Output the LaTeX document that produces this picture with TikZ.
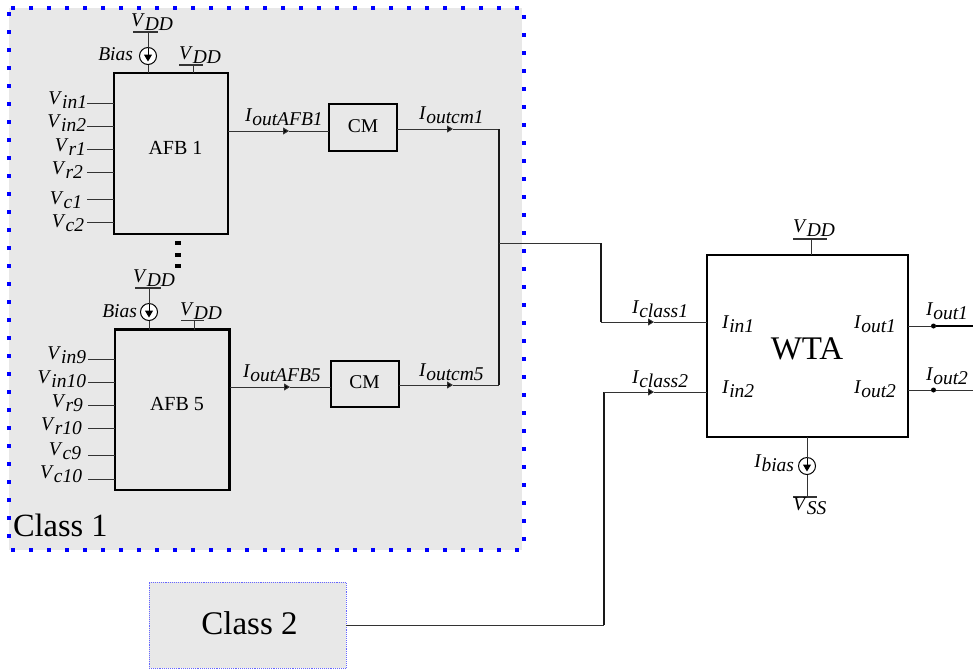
\documentclass[tikz,border=0pt]{standalone}
\usepackage{fontspec}
\setmainfont{Liberation Serif}
\usetikzlibrary{arrows.meta}
\newcommand{\lbl}[2]{\fontsize{19.5}{19.5}\selectfont\textit{#1}\raisebox{-4pt}{\textit{#2}}}
\newcommand{\fs}[1]{\fontsize{#1}{#1}\selectfont}
\tikzset{
  blockbox/.style={draw=black,line width=2.4pt,anchor=north west,inner sep=0pt,outer sep=0pt},
  cmbox/.style={draw=black,line width=2pt,anchor=north west,inner sep=0pt,outer sep=0pt},
  txt/.style={inner sep=0pt,outer sep=0pt,anchor=base west,text=black},
  txtr/.style={inner sep=0pt,outer sep=0pt,anchor=base east,text=black},
  txtc/.style={inner sep=0pt,outer sep=0pt,anchor=base,text=black},
  wire/.style={line width=1pt,draw=black!80},
  rail/.style={line width=1.5pt,draw=black!90},
  tipwire/.style={line width=1pt,draw=black!80,-{Triangle[length=6pt,width=7pt,fill=black]}},
  srcc/.style={circle,draw=black,line width=1pt,fill=white,minimum size=17pt,inner sep=0pt,outer sep=0pt},
  srcarrow/.style={line width=1pt,-{Triangle[length=7pt,width=8pt,fill=black]},shorten >=3pt},
  bar/.style={line width=1.3pt,draw=black!80},
  bluedots/.style={draw=blue,line width=4pt,dash pattern=on 4pt off 14pt},
  juncdot/.style={circle,fill=black,inner sep=0pt,minimum size=5pt},
  vdot/.style={fill=black,inner sep=0pt,minimum width=6pt,minimum height=4pt}
}
\begin{document}
\begin{tikzpicture}[x=1pt,y=-1pt]
\useasboundingbox (0,0) rectangle (973,670);
% Class 1 background
\fill[black!9] (9,8) rectangle (522,550);
\draw[bluedots] (11,8) -- (524,8);
\draw[bluedots] (9,12) -- (9,550);
\draw[bluedots] (11,550) -- (522,550);
\draw[bluedots] (524,15) -- (524,548);
\node[txt] (class1) at (13,536) {\fs{32.4}Class 1};
% Class 2
\node[draw=blue!60,line width=0.9pt,densely dotted,fill=black!9,anchor=north west,minimum width=197pt,minimum height=86pt,inner sep=0pt,outer sep=0pt] (c2) at (149,582) {};
\node[txtc] (class2) at (249.5,634) {\fs{33}Class 2};
% blocks
\node[blockbox,minimum width=114pt,minimum height=161pt] (afb1) at (114,73) {};
\node[blockbox,minimum width=114.5pt,minimum height=160.5pt] (afb5) at (115,329.5) {};
\node[txtc] (afb1t) at (175.5,154) {\fs{20}AFB 1};
\node[txtc] (afb5t) at (177,410) {\fs{20}AFB 5};
\node[cmbox,minimum width=68pt,minimum height=47pt] (cm1) at (329,104) {};
\node[cmbox,minimum width=67.5pt,minimum height=46pt] (cm5) at (331,361) {};
\node[txtc] (cm1t) at (363,132) {\fs{19.5}CM};
\node[txtc] (cm5t) at (364.5,388) {\fs{19.5}CM};
\node[blockbox,minimum width=201pt,minimum height=182pt] (wta) at (707,255) {};
\node[txtc] (wtat) at (807,359) {\fs{33}WTA};
% ellipsis
\node[vdot] (d1) at (178,243) {};
\node[vdot] (d2) at (178,255) {};
\node[vdot] (d3) at (178,266) {};
% AFB1 inputs
\foreach \n/\y in {a/103,b/126,c/149,d/172,e/199,f/222}{
  \coordinate (p\n) at (87,\y);
  \draw[wire] (p\n) -- (p\n -| afb1.west);
}
\node[txtr] (l1) at (87,104) {\lbl{V}{in1}};
\node[txtr] (l2) at (86,127) {\lbl{V}{in2}};
\node[txtr] (l3) at (86,151) {\lbl{V}{r1}};
\node[txtr] (l4) at (83,174) {\lbl{V}{r2}};
\node[txtr] (l5) at (82,204) {\lbl{V}{c1}};
\node[txtr] (l6) at (84,227) {\lbl{V}{c2}};
% AFB5 inputs
\foreach \n/\y in {a/359,b/382,c/405,d/428,e/455,f/479}{
  \coordinate (q\n) at (88,\y);
  \draw[wire] (q\n) -- (q\n -| afb5.west);
}
\node[txtr] (m1) at (86,359) {\lbl{V}{in9}};
\node[txtr] (m2) at (86,383) {\lbl{V}{in10}};
\node[txtr] (m3) at (83,407) {\lbl{V}{r9}};
\node[txtr] (m4) at (82,430) {\lbl{V}{r10}};
\node[txtr] (m5) at (81,455) {\lbl{V}{c9}};
\node[txtr] (m6) at (82,478) {\lbl{V}{c10}};
% AFB1 supplies
\coordinate (b1a) at (133,32); \coordinate (b1b) at (158,32); \coordinate (b1m) at (148,32);
\node[srcc] (s1) at (148,56) {};
\draw[bar] (b1a) -- (b1b);
\draw[wire] (b1m) -- (s1.north);
\draw[wire] (s1.south) -- (s1.south |- afb1.north);
\draw[srcarrow] (s1.north) -- (s1.south);
\node[txtr] (bias1) at (133,60) {\lbl{}{}\textit{Bias}};
\node[txt] (vdd1) at (131,26) {\lbl{V}{DD}};
\coordinate (b2a) at (179,65); \coordinate (b2b) at (203,65); \coordinate (b2m) at (193,65);
\draw[bar] (b2a) -- (b2b);
\draw[wire] (b2m) -- (b2m |- afb1.north);
\node[txt] (vdd2) at (179,59) {\lbl{V}{DD}};
% AFB5 supplies
\coordinate (b3a) at (135,288); \coordinate (b3b) at (161,288); \coordinate (b3m) at (149,288);
\node[srcc] (s5) at (149,312) {};
\draw[bar] (b3a) -- (b3b);
\draw[wire] (b3m) -- (s5.north);
\draw[wire] (s5.south) -- (s5.south |- afb5.north);
\draw[srcarrow] (s5.north) -- (s5.south);
\node[txtr] (bias5) at (137,317) {\lbl{}{}\textit{Bias}};
\node[txt] (vdd3) at (133,282) {\lbl{V}{DD}};
\coordinate (b4a) at (181,320.5); \coordinate (b4b) at (204,320.5); \coordinate (b4m) at (194,320.5);
\draw[bar] (b4a) -- (b4b);
\draw[wire] (b4m) -- (b4m |- afb5.north);
\node[txt] (vdd4) at (180,315) {\lbl{V}{DD}};
% AFB to CM
\coordinate (t1) at (289,131); \coordinate (t2) at (290,387);
\draw[tipwire] (t1 -| afb1.east) -- (t1);
\draw[wire] (t1) -- (t1 -| cm1.west);
\draw[tipwire] (t2 -| afb5.east) -- (t2);
\draw[wire] (t2) -- (t2 -| cm5.west);
\node[txt] (i1) at (245,121) {\lbl{I}{outAFB1}};
\node[txt] (i2) at (243,377) {\lbl{I}{outAFB5}};
% CM to rail
\coordinate (t3) at (453,129); \coordinate (t4) at (453,385);
\coordinate (r1) at (499,129); \coordinate (r5) at (499,385); \coordinate (rj) at (499,243);
\draw[tipwire] (t3 -| cm1.east) -- (t3);
\draw[wire] (t3) -- (r1);
\draw[tipwire] (t4 -| cm5.east) -- (t4);
\draw[wire] (t4) -- (r5);
\draw[rail] (r1) -- (r5);
\node[txt] (i3) at (419,119) {\lbl{I}{outcm1}};
\node[txt] (i4) at (419,376) {\lbl{I}{outcm5}};
% to WTA
\coordinate (c1) at (601,243); \coordinate (c2a) at (601,322); \coordinate (t5) at (654,322);
\draw[wire] (rj) -- (c1);
\draw[rail,line width=1.2pt] (c1) -- (c2a);
\draw[tipwire] (c2a) -- (t5);
\draw[wire] (t5) -- (t5 -| wta.west);
\coordinate (e1) at (604,625); \coordinate (e2) at (604,392); \coordinate (t6) at (654,392);
\draw[wire] (c2.east |- e1) -- (e1);
\draw[rail,line width=1.2pt] (e1) -- (e2);
\draw[tipwire] (e2) -- (t6);
\draw[wire] (t6) -- (t6 -| wta.west);
\node[txt] (i5) at (632,313) {\lbl{I}{class1}};
\node[txt] (i6) at (632,383) {\lbl{I}{class2}};
% WTA labels
\node[txt] (w1) at (722,328) {\lbl{I}{in1}};
\node[txt] (w2) at (722,393) {\lbl{I}{in2}};
\node[txt] (w3) at (854,328) {\lbl{I}{out1}};
\node[txt] (w4) at (854,393) {\lbl{I}{out2}};
% outputs
\node[juncdot] (o1) at (933.5,326) {};
\node[juncdot] (o2) at (933.5,390) {};
\coordinate (oe1) at (973,326); \coordinate (oe2) at (973,390);
\draw[wire] (o1 -| wta.east) -- (o1);
\draw[wire,line width=1.3pt,draw=black] (o1) -- (oe1);
\draw[wire] (o2 -| wta.east) -- (o2);
\draw[wire] (o2) -- (oe2);
\node[txt] (o1t) at (926,315) {\lbl{I}{out1}};
\node[txt] (o2t) at (926,380) {\lbl{I}{out2}};
% WTA supply
\coordinate (v1) at (793,239); \coordinate (v2) at (827,239); \coordinate (vm) at (811,239);
\draw[bar] (v1) -- (v2);
\draw[wire] (vm) -- (vm |- wta.north);
\node[txt] (vdd5) at (793,232) {\lbl{V}{DD}};
% bias
\node[srcc] (sb) at (807,466) {};
\coordinate (vs) at (807,497); \coordinate (vsa) at (793,497); \coordinate (vsb) at (817,497);
\draw[wire] (sb.north |- wta.south) -- (sb.north);
\draw[wire] (sb.south) -- (vs);
\draw[srcarrow] (sb.north) -- (sb.south);
\draw[bar] (vsa) -- (vsb);
\node[txtr] (ib) at (794,467) {\lbl{I}{bias}};
\node[txt] (vss) at (793,510) {\lbl{V}{SS}};
\end{tikzpicture}
\end{document}
